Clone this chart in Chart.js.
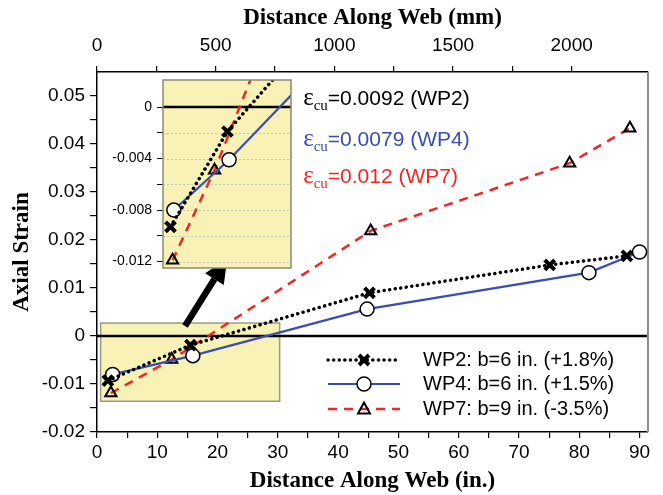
<!DOCTYPE html>
<html>
<head>
<meta charset="utf-8">
<script src="https://cdn.jsdelivr.net/npm/chart.js@4.4.1/dist/chart.umd.min.js"></script>
<style>
  body { margin: 0; background: #fff; }
  #wrap { position: relative; width: 663px; height: 495px; }
  #main { position: absolute; left: 0; top: 0; }
  #inset { position: absolute; left: 95px; top: 74px; }
</style>
</head>
<body>
<div id="wrap">
  <canvas id="main" width="663" height="495"></canvas>
  <canvas id="inset" width="200" height="200"></canvas>
</div>
<script>
// distance along web (in.) and axial strain for each specimen
const wp2X = [1.8, 15.5, 45.2, 75.1, 87.9];
const wp2Y = [-0.0093, -0.0019, 0.0090, 0.0148, 0.0167];
const wp4X = [2.6, 15.9, 44.8, 81.6, 90.0];
const wp4Y = [-0.0080, -0.0041, 0.0056, 0.0132, 0.0175];
const wp7X = [2.3, 12.4, 45.4, 78.4, 88.4];
const wp7Y = [-0.0119, -0.0049, 0.0219, 0.0360, 0.0433];

const seriesNames = ['WP2: b=6 in. (+1.8%)', 'WP4: b=6 in. (+1.5%)', 'WP7: b=9 in. (-3.5%)'];
const ecuValues = ['0.0092', '0.0079', '0.012'];
const ecuNames = ['WP2', 'WP4', 'WP7'];

const inchTicks = [0, 10, 20, 30, 40, 50, 60, 70, 80, 90];
const mmTicks = [0, 500, 1000, 1500, 2000];
const strainTicks = [-0.02, -0.01, 0, 0.01, 0.02, 0.03, 0.04, 0.05];
const strainLabels = ['-0.02', '-0.01', '0', '0.01', '0.02', '0.03', '0.04', '0.05'];
const insetTicks = [-0.012, -0.008, -0.004, 0];
const insetLabels = ['-0.012', '-0.008', '-0.004', '0'];

const BLUE = '#3a4db3';
const RED = '#f02626';
const YELLOW = '#f8f2b6';

function pts(xs, ys) {
  return xs.map((x, i) => ({x: x, y: ys[i]}));
}

// majors plus a minor tick half way between each
function withMinors(majors) {
  let out = [];
  for (let i = 0; i < majors.length; i++) {
    out.push({value: majors[i]});
    if (i < majors.length - 1) out.push({value: (majors[i] + majors[i + 1]) / 2});
  }
  return out;
}

function labelFor(majors, labels, v) {
  let i = majors.findIndex(m => Math.abs(m - v) < 1e-9);
  return i >= 0 ? labels[i] : '';
}

function makeSeries() {
  return [
    {label: seriesNames[0], data: pts(wp2X, wp2Y), borderColor: '#000', borderWidth: 3.5,
      borderDash: [0.1, 5.5], borderCapStyle: 'round', pointStyle: 'crossRot', pointRadius: 7,
      pointBorderWidth: 4, pointBorderColor: '#000', pointBackgroundColor: '#000'},
    {label: seriesNames[1], data: pts(wp4X, wp4Y), borderColor: BLUE, borderWidth: 2.2,
      pointStyle: 'circle', pointRadius: 7, pointBorderWidth: 1.5,
      pointBorderColor: '#000', pointBackgroundColor: '#fff'},
    {label: seriesNames[2], data: pts(wp7X, wp7Y), borderColor: RED, borderWidth: 2.5,
      borderDash: [9, 7], pointStyle: 'triangle', pointRadius: 6.5, pointBorderWidth: 2,
      pointBorderColor: '#000', pointBackgroundColor: 'rgba(0,0,0,0)'}
  ];
}

const tickFont = {family: 'Liberation Sans', size: 19};
const titleFont = {family: 'Liberation Serif', weight: 'bold', size: 23};

// the zoomed region and the arrow, in data units
const zoomBox = {x0: 0.6, x1: 30.3, y0: -0.0136, y1: 0.0027};
const arrowTail = {x: 14.6, y: 0.0021};
const arrowTip = {x: 21.6, y: 0.0161};
const ecuAnchor = {x: 34.2, y: [0.0495, 0.0411, 0.0334]};

function drawMarker(ctx, kind, x, y) {
  ctx.save();
  ctx.setLineDash([]);
  ctx.strokeStyle = '#000';
  if (kind === 0) {
    ctx.lineWidth = 4;
    ctx.beginPath();
    ctx.moveTo(x - 5, y - 5); ctx.lineTo(x + 5, y + 5);
    ctx.moveTo(x + 5, y - 5); ctx.lineTo(x - 5, y + 5);
    ctx.stroke();
  } else if (kind === 1) {
    ctx.lineWidth = 1.5;
    ctx.fillStyle = '#fff';
    ctx.beginPath();
    ctx.arc(x, y, 7, 0, Math.PI * 2);
    ctx.fill(); ctx.stroke();
  } else {
    ctx.lineWidth = 2;
    ctx.beginPath();
    ctx.moveTo(x, y - 6.5); ctx.lineTo(x + 6, y + 4.5); ctx.lineTo(x - 6, y + 4.5);
    ctx.closePath();
    ctx.stroke();
  }
  ctx.restore();
}

const mainDecor = {
  id: 'mainDecor',
  beforeDatasetsDraw(chart) {
    const {ctx, chartArea: a, scales: {x, y}} = chart;
    ctx.save();
    // yellow zoom box
    const bx0 = x.getPixelForValue(zoomBox.x0), bx1 = x.getPixelForValue(zoomBox.x1);
    const by0 = y.getPixelForValue(zoomBox.y1), by1 = y.getPixelForValue(zoomBox.y0);
    ctx.fillStyle = YELLOW;
    ctx.fillRect(bx0, by0, bx1 - bx0, by1 - by0);
    ctx.strokeStyle = '#9a9a88';
    ctx.lineWidth = 1.5;
    ctx.strokeRect(bx0, by0, bx1 - bx0, by1 - by0);
    // zero line
    const y0 = y.getPixelForValue(0);
    ctx.strokeStyle = '#000';
    ctx.lineWidth = 2.5;
    ctx.beginPath();
    ctx.moveTo(a.left, y0); ctx.lineTo(a.right, y0);
    ctx.stroke();
    // right frame
    ctx.strokeStyle = '#8c8c8c';
    ctx.lineWidth = 2;
    ctx.beginPath();
    ctx.moveTo(a.right, a.top); ctx.lineTo(a.right, a.bottom);
    ctx.stroke();
    ctx.restore();
  },
  afterDatasetsDraw(chart) {
    const {ctx, chartArea: a, scales: {x, y}} = chart;
    ctx.save();
    // arrow
    const tx = x.getPixelForValue(arrowTail.x), ty = y.getPixelForValue(arrowTail.y);
    const hx = x.getPixelForValue(arrowTip.x), hy = y.getPixelForValue(arrowTip.y);
    const ang = Math.atan2(hy - ty, hx - tx);
    const headLen = 24, headHalf = 11;
    const bx = hx - headLen * Math.cos(ang), by = hy - headLen * Math.sin(ang);
    ctx.strokeStyle = '#000';
    ctx.fillStyle = '#000';
    ctx.lineWidth = 6.5;
    ctx.beginPath();
    ctx.moveTo(tx, ty); ctx.lineTo(bx, by);
    ctx.stroke();
    ctx.beginPath();
    ctx.moveTo(hx, hy);
    ctx.lineTo(bx + headHalf * Math.sin(ang), by - headHalf * Math.cos(ang));
    ctx.lineTo(bx - headHalf * Math.sin(ang), by + headHalf * Math.cos(ang));
    ctx.closePath();
    ctx.fill();

    // ecu notes
    const colors = ['#000', BLUE, RED];
    ctx.textBaseline = 'alphabetic';
    ctx.textAlign = 'left';
    for (let i = 0; i < 3; i++) {
      let px = x.getPixelForValue(ecuAnchor.x);
      const py = y.getPixelForValue(ecuAnchor.y[i]) + 7;
      ctx.fillStyle = colors[i];
      ctx.font = '25px "Liberation Serif"';
      ctx.fillText('\u03b5', px, py);
      px += ctx.measureText('\u03b5').width;
      ctx.font = '15px "Liberation Serif"';
      ctx.fillText('cu', px, py + 5);
      px += ctx.measureText('cu').width;
      ctx.font = '21px "Liberation Sans"';
      ctx.fillText('=' + ecuValues[i] + ' (' + ecuNames[i] + ')', px, py);
    }

    // legend
    const lx0 = a.right - 320, lx1 = a.right - 248, tx0 = a.right - 225;
    const rows = [a.bottom - 72, a.bottom - 48, a.bottom - 23];
    const ds = chart.data.datasets;
    ctx.font = '20px "Liberation Sans"';
    ctx.textBaseline = 'middle';
    for (let i = 0; i < 3; i++) {
      const ly = rows[i];
      ctx.save();
      ctx.strokeStyle = ds[i].borderColor;
      ctx.lineWidth = ds[i].borderWidth;
      ctx.lineCap = ds[i].borderCapStyle || 'butt';
      ctx.setLineDash(ds[i].borderDash || []);
      ctx.beginPath();
      ctx.moveTo(lx0, ly); ctx.lineTo(lx1, ly);
      ctx.stroke();
      ctx.restore();
      drawMarker(ctx, i, (lx0 + lx1) / 2, ly);
      ctx.fillStyle = '#000';
      ctx.fillText(seriesNames[i], tx0, ly);
    }
    ctx.restore();
  }
};

new Chart(document.getElementById('main'), {
  type: 'line',
  data: {datasets: makeSeries()},
  options: {
    responsive: false,
    animation: false,
    layout: {padding: {top: 0, right: 15, bottom: 0, left: 0}},
    plugins: {legend: {display: false}, tooltip: {enabled: false}},
    scales: {
      x: {
        type: 'linear', position: 'bottom', min: 0, max: 91.4,
        afterBuildTicks: s => { s.ticks = withMinors(inchTicks); },
        afterFit: s => { s.height = 63; },
        ticks: {font: tickFont, color: '#000', padding: 3, maxRotation: 0, autoSkip: false,
          callback: v => labelFor(inchTicks, inchTicks.map(String), v)},
        grid: {drawOnChartArea: false, tickLength: 6, color: '#000', lineWidth: 1.2},
        border: {color: '#000', width: 1.5},
        title: {display: true, text: 'Distance Along Web (in.)', font: titleFont, color: '#000',
          padding: {top: 0, bottom: 0}}
      },
      x2: {
        type: 'linear', position: 'top', min: 0, max: 91.4 * 25.4,
        afterBuildTicks: s => { s.ticks = withMinors(mmTicks); },
        afterFit: s => { s.height = 72; },
        ticks: {font: tickFont, color: '#000', padding: 9, maxRotation: 0, autoSkip: false,
          callback: v => labelFor(mmTicks, mmTicks.map(String), v)},
        grid: {drawOnChartArea: false, tickLength: 6, color: '#000', lineWidth: 1.2},
        border: {color: '#000', width: 1.5},
        title: {display: true, text: 'Distance Along Web (mm)', font: titleFont, color: '#000',
          padding: {top: 4, bottom: 0}}
      },
      y: {
        type: 'linear', min: -0.02, max: 0.055,
        afterBuildTicks: s => { s.ticks = withMinors(strainTicks); },
        afterFit: s => { s.width = 97; },
        ticks: {font: tickFont, color: '#000', padding: 5, autoSkip: false,
          callback: v => labelFor(strainTicks, strainLabels, v)},
        grid: {drawOnChartArea: false, tickLength: 7, color: '#000', lineWidth: 1.2},
        border: {color: '#000', width: 1.5},
        title: {display: true, text: 'Axial Strain', font: titleFont, color: '#000',
          padding: {top: 8, bottom: 0}}
      }
    }
  },
  plugins: [mainDecor]
});

const insetDecor = {
  id: 'insetDecor',
  beforeDatasetsDraw(chart) {
    const {ctx, chartArea: a, scales: {y}} = chart;
    ctx.save();
    ctx.fillStyle = YELLOW;
    ctx.fillRect(a.left, a.top, a.width, a.height);
    // dotted grid
    ctx.strokeStyle = '#c8c8b8';
    ctx.lineWidth = 1;
    ctx.setLineDash([2, 2]);
    for (let v = -0.012; v < -0.001; v += 0.002) {
      const py = Math.round(y.getPixelForValue(v)) + 0.5;
      ctx.beginPath();
      ctx.moveTo(a.left, py); ctx.lineTo(a.right, py);
      ctx.stroke();
    }
    ctx.setLineDash([]);
    const y0 = y.getPixelForValue(0);
    ctx.strokeStyle = '#000';
    ctx.lineWidth = 2.5;
    ctx.beginPath();
    ctx.moveTo(a.left, y0); ctx.lineTo(a.right, y0);
    ctx.stroke();
    ctx.restore();
  },
  afterDraw(chart) {
    const {ctx, chartArea: a} = chart;
    ctx.save();
    ctx.strokeStyle = '#8a8a74';
    ctx.lineWidth = 1.5;
    ctx.strokeRect(a.left, a.top, a.width, a.height);
    ctx.restore();
  }
};

new Chart(document.getElementById('inset'), {
  type: 'line',
  data: {datasets: makeSeries()},
  options: {
    responsive: false,
    animation: false,
    layout: {autoPadding: false, padding: {top: 6, right: 4, bottom: 6, left: 0}},
    plugins: {legend: {display: false}, tooltip: {enabled: false}},
    scales: {
      x: {type: 'linear', min: 0, max: 30.8, display: false},
      y: {
        type: 'linear', min: -0.0125, max: 0.0021,
        afterBuildTicks: s => { s.ticks = withMinors(insetTicks); },
        afterFit: s => {
          s.width = 68;
          // the tick labels sit inside the range, so no extra room is needed
          s.paddingTop = 0; s.paddingBottom = 0; s.paddingLeft = 0; s.paddingRight = 0;
        },
        ticks: {font: {family: 'Liberation Sans', size: 14}, color: '#000', padding: 5, autoSkip: false,
          callback: v => labelFor(insetTicks, insetLabels, v)},
        grid: {drawOnChartArea: false, tickLength: 6, color: '#000', lineWidth: 1},
        border: {display: false}
      }
    }
  },
  plugins: [insetDecor]
});
</script>
</body>
</html>
